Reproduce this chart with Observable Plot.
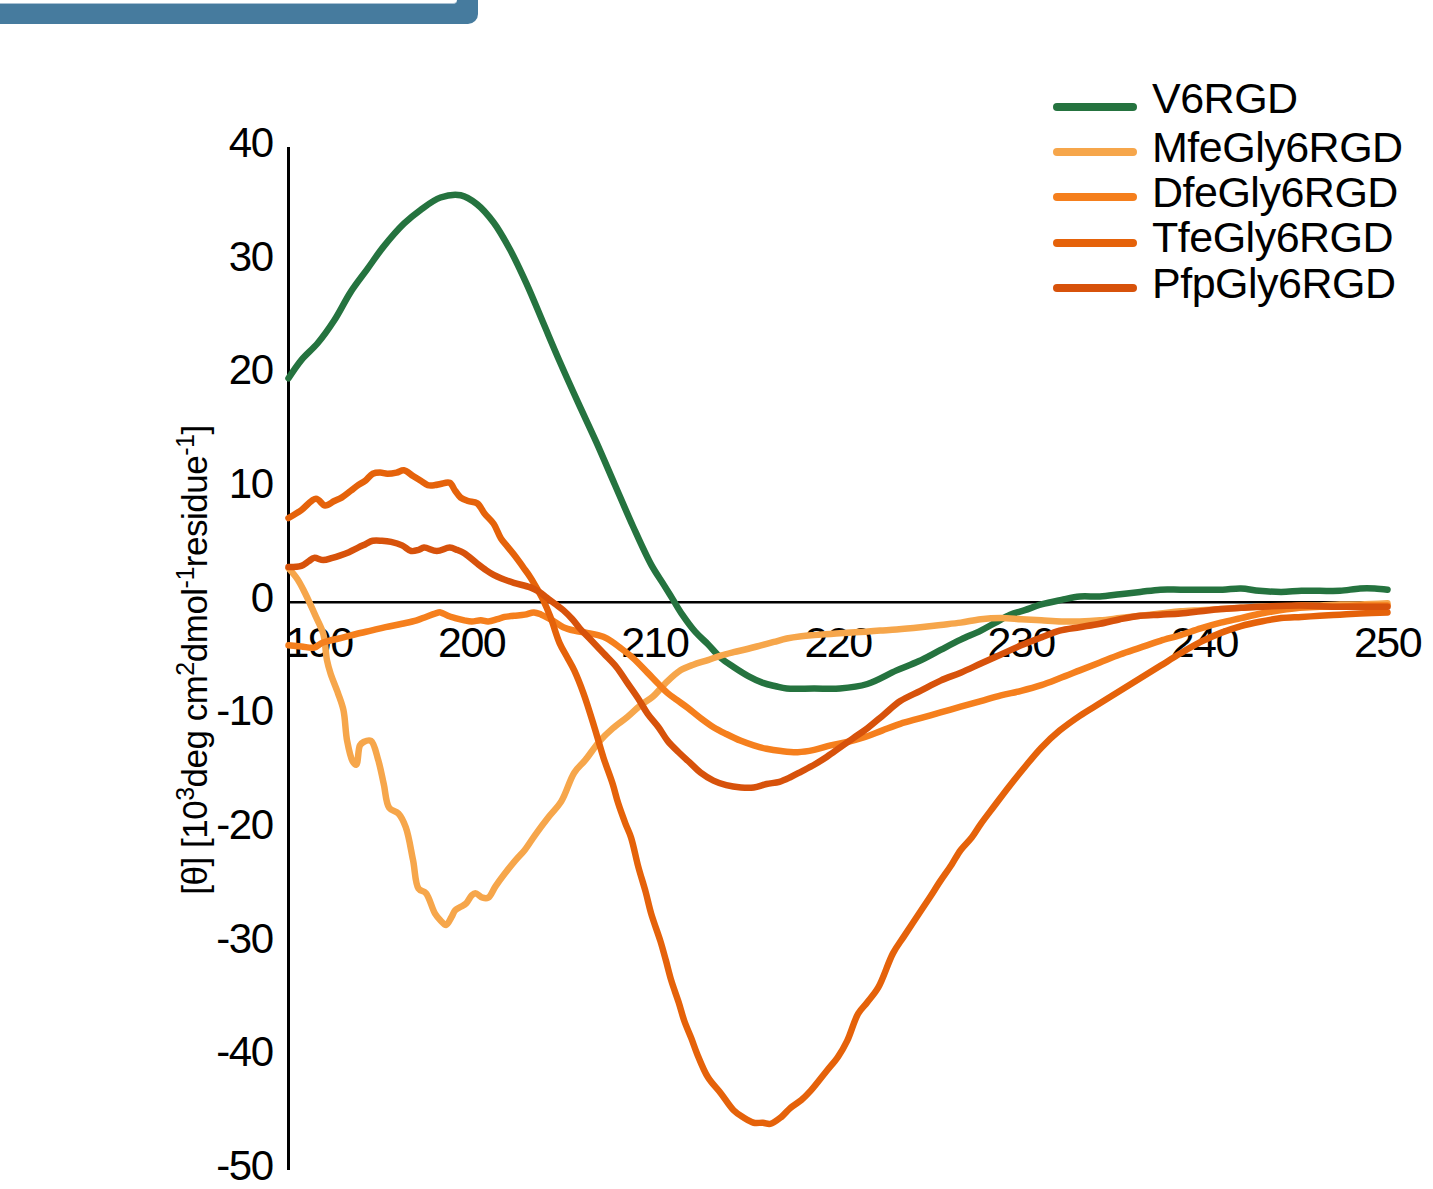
<!DOCTYPE html>
<html><head><meta charset="utf-8">
<script src="https://cdn.jsdelivr.net/npm/d3@7"></script>
<script src="https://cdn.jsdelivr.net/npm/@observablehq/plot@0.6"></script>
<style>
html,body{margin:0;padding:0;background:#fff;overflow:hidden;}
body{font-family:"Liberation Sans",Arial,sans-serif;}
#wrap{position:relative;width:1433px;height:1189px;overflow:hidden;}
#wrap svg{position:absolute;left:0;top:0;}
#wrap svg text{letter-spacing:-1.5px;}
#bar{position:absolute;left:-20px;top:-40px;width:498px;height:64px;background:#467b9e;border-radius:10px;z-index:2;}
#barInner{position:absolute;left:-20px;top:-40px;width:477px;height:43px;background:#fff;border-bottom:1.5px solid #a9c1d3;border-radius:0 0 4px 0;z-index:3;}
#legend{position:absolute;left:1053px;top:84px;z-index:2;}
.row{display:flex;align-items:center;height:45.4px;}
.sw{width:84px;height:8px;border-radius:4px;}
.lab{margin-left:15px;font-size:43px;line-height:1;color:#000;letter-spacing:-0.5px;transform:translateY(-5px);white-space:nowrap;}
.row:first-child .lab{transform:translateY(-8px);}
</style>
</head><body>
<div id="wrap"><div id="bar"></div><div id="barInner"></div><div id="legend"></div></div>
<script>
const seriesNames = ["V6RGD", "MfeGly6RGD", "DfeGly6RGD", "TfeGly6RGD", "PfpGly6RGD"];
const seriesColors = ["#25733f", "#f6a64b", "#f57f1d", "#e5620a", "#d7520b"];
const xTicks = [190, 200, 210, 220, 230, 240, 250];
const yTicks = [40, 30, 20, 10, 0, -10, -20, -30, -40, -50];
const yTitleParts = [["[θ] [10", false], ["3", true], ["deg cm", false], ["2", true], ["dmol", false], ["-1", true], ["residue", false], ["-1", true], ["]", false]];

// wavelength (nm), [θ] (10^3 deg cm2 dmol-1 residue-1)
const V6RGD = [[190,19.7],[190.7,21.3],[191.6,22.8],[192.5,24.8],[193.4,27.3],[194.3,29.3],[195.2,31.3],[196.3,33.3],[197.2,34.5],[198.3,35.6],[199.4,35.8],[200.3,35.0],[201.2,33.4],[202.1,31.0],[203.0,28.0],[203.9,24.6],[204.8,21.2],[205.8,17.6],[206.8,14.1],[207.8,10.4],[208.8,6.7],[209.8,3.3],[210.5,1.5],[211.0,0.2],[211.5,-1.1],[212.2,-2.6],[212.9,-3.7],[213.6,-4.9],[214.3,-5.7],[215.1,-6.5],[215.9,-7.1],[216.6,-7.4],[217.2,-7.6],[218.7,-7.6],[220.1,-7.6],[221.6,-7.2],[223.2,-6.0],[224.4,-5.2],[225.6,-4.2],[226.7,-3.3],[227.8,-2.5],[228.6,-1.8],[229.4,-1.1],[230.2,-0.7],[231.1,-0.2],[232.2,0.2],[233.2,0.5],[234.3,0.5],[235.4,0.7],[236.5,0.9],[237.6,1.1],[238.7,1.1],[239.8,1.1],[241,1.1],[242,1.2],[243,1.0],[244.2,0.9],[245.3,1.0],[246.3,1.0],[247.4,1.0],[248.5,1.2],[249.3,1.2],[250,1.1]];
const MfeGly6RGD = [[190,3.0],[190.5,2.0],[190.9,0.8],[191.5,-1.3],[191.9,-2.8],[192.1,-5.1],[192.3,-6.3],[192.7,-8.0],[193.0,-9.5],[193.2,-12.2],[193.5,-14.0],[193.7,-14.3],[193.9,-12.6],[194.1,-12.3],[194.5,-12.2],[194.9,-13.9],[195.2,-16.0],[195.5,-18.1],[196.0,-18.6],[196.4,-19.8],[196.8,-22.7],[197.1,-25.2],[197.5,-25.6],[198.0,-27.4],[198.3,-28.0],[198.6,-28.4],[198.9,-27.7],[199.1,-27.1],[199.4,-26.8],[199.7,-26.5],[200.0,-25.8],[200.2,-25.6],[200.6,-26.0],[200.9,-26.0],[201.3,-25.0],[201.8,-23.9],[202.4,-22.7],[202.9,-21.8],[203.5,-20.4],[204.2,-18.9],[204.9,-17.5],[205.6,-15.0],[206.2,-13.9],[207.0,-12.2],[207.7,-11.1],[208.5,-10.1],[209.2,-9.1],[209.9,-8.3],[210.6,-7.1],[211.4,-6.0],[212.1,-5.5],[212.9,-5.1],[213.6,-4.7],[214.3,-4.4],[215.1,-4.1],[215.8,-3.8],[216.5,-3.5],[217.2,-3.2],[218,-3.0],[218.7,-2.9],[219.6,-2.8],[220.5,-2.7],[221.5,-2.6],[222.3,-2.5],[223.2,-2.4],[224.5,-2.2],[225.6,-2.0],[226.7,-1.8],[227.8,-1.5],[228.9,-1.4],[230,-1.5],[231.1,-1.6],[232.2,-1.7],[233.2,-1.7],[234.3,-1.6],[235.4,-1.4],[236.5,-1.2],[237.6,-1.0],[238.7,-0.8],[239.8,-0.7],[241,-0.6],[242,-0.5],[243.1,-0.4],[244.2,-0.4],[245.3,-0.3],[246.3,-0.3],[247.4,-0.2],[248.5,-0.2],[250,-0.1]];
const DfeGly6RGD = [[190,-3.8],[190.7,-3.9],[191.4,-4.0],[191.8,-3.6],[192.2,-3.4],[193.0,-3.1],[193.7,-2.8],[194.5,-2.5],[195.3,-2.2],[196.2,-1.9],[197.0,-1.6],[197.5,-1.3],[198.0,-1.0],[198.3,-0.9],[198.7,-1.2],[199.1,-1.4],[199.6,-1.6],[200.0,-1.7],[200.5,-1.6],[200.9,-1.7],[201.4,-1.5],[201.8,-1.3],[202.3,-1.2],[202.9,-1.1],[203.4,-0.9],[203.8,-1.1],[204.4,-1.6],[205.0,-2.2],[205.6,-2.5],[206.3,-2.7],[206.9,-2.9],[207.4,-3.2],[208.1,-4.0],[208.8,-4.9],[209.6,-6.2],[210.2,-7.2],[210.7,-8.0],[211.2,-8.6],[211.8,-9.3],[212.5,-10.2],[213.2,-11.0],[213.9,-11.6],[214.7,-12.2],[215.4,-12.6],[216.1,-12.9],[216.9,-13.1],[217.8,-13.2],[218.7,-13.0],[219.6,-12.6],[220.5,-12.3],[221.4,-11.9],[222.4,-11.3],[223.4,-10.7],[224.5,-10.2],[225.6,-9.7],[226.7,-9.2],[227.8,-8.7],[228.9,-8.2],[230,-7.8],[231.1,-7.3],[232.1,-6.7],[233.2,-6.0],[234.3,-5.3],[235.4,-4.6],[236.5,-4.0],[237.6,-3.4],[238.7,-2.9],[239.8,-2.3],[240.9,-1.8],[242,-1.4],[243.1,-1.0],[244.2,-0.7],[245.2,-0.5],[246.3,-0.4],[247.4,-0.4],[248.5,-0.3],[250,-0.3]];
const TfeGly6RGD = [[190,7.4],[190.7,8.1],[191.5,9.1],[192.0,8.5],[192.5,8.9],[192.9,9.2],[193.4,9.8],[193.8,10.3],[194.2,10.7],[194.6,11.3],[195.0,11.4],[195.4,11.3],[195.9,11.4],[196.3,11.6],[196.8,11.1],[197.2,10.7],[197.6,10.3],[198.0,10.3],[198.3,10.4],[198.8,10.5],[199.1,9.8],[199.4,9.2],[199.8,8.9],[200.3,8.7],[200.7,7.8],[201.2,6.9],[201.6,5.6],[202.0,4.8],[202.4,4.0],[202.8,3.1],[203.2,2.2],[203.6,1.1],[203.9,0.2],[204.3,-1.3],[204.8,-3.6],[205.2,-4.8],[205.6,-6.0],[206.1,-8.0],[206.7,-11.0],[207.2,-13.7],[207.7,-16.0],[208.0,-17.7],[208.4,-19.5],[208.7,-20.7],[209.1,-23.3],[209.5,-25.5],[209.8,-27.4],[210.3,-29.8],[210.6,-31.5],[210.9,-33.3],[211.3,-35.2],[211.6,-36.8],[212.0,-38.4],[212.3,-39.7],[212.9,-41.8],[213.6,-43.2],[214.3,-44.7],[214.8,-45.3],[215.4,-45.8],[215.9,-45.8],[216.3,-45.9],[216.9,-45.3],[217.4,-44.5],[218.0,-43.8],[218.5,-43.0],[219.4,-41.2],[220.0,-40.0],[220.5,-38.6],[221.1,-36.2],[221.6,-35.2],[222.2,-33.9],[223.0,-30.9],[223.6,-29.4],[224.3,-27.7],[225.0,-26.0],[225.6,-24.5],[226.2,-23.1],[226.7,-21.8],[227.3,-20.7],[227.8,-19.5],[228.5,-18.0],[229.3,-16.3],[230.2,-14.5],[231.1,-12.8],[232.1,-11.3],[233.2,-10.0],[234.3,-8.9],[235.4,-7.8],[236.5,-6.7],[237.6,-5.6],[238.7,-4.5],[239.8,-3.5],[240.9,-2.7],[242,-2.1],[243.1,-1.7],[244.2,-1.4],[245.3,-1.3],[246.3,-1.2],[247.4,-1.1],[248.5,-1.0],[250,-0.9]];
const PfpGly6RGD = [[190,3.1],[190.7,3.2],[191.1,3.6],[191.4,3.9],[191.9,3.7],[192.4,3.9],[192.8,4.1],[193.3,4.4],[193.8,4.8],[194.2,5.1],[194.6,5.4],[195.1,5.4],[195.6,5.3],[196.2,5.0],[196.7,4.5],[197.1,4.6],[197.4,4.8],[198.1,4.5],[198.8,4.8],[199.2,4.6],[199.6,4.3],[200.3,3.4],[200.8,2.8],[201.2,2.4],[201.6,2.1],[202.3,1.7],[203.2,1.3],[203.7,0.9],[204.1,0.4],[204.6,-0.2],[205.0,-0.7],[205.5,-1.5],[205.9,-2.3],[206.5,-3.3],[207.2,-4.5],[207.9,-5.7],[208.5,-7.1],[209.1,-8.5],[209.6,-9.8],[210.2,-11.0],[210.7,-12.2],[211.3,-13.2],[211.9,-14.1],[212.5,-15.0],[213.2,-15.7],[213.9,-16.1],[214.7,-16.3],[215.4,-16.3],[216.1,-16.0],[216.8,-15.8],[217.4,-15.4],[218.0,-14.9],[218.7,-14.3],[219.4,-13.6],[220.1,-12.8],[220.8,-12.0],[221.6,-11.1],[222.5,-9.9],[223.4,-8.7],[224.5,-7.8],[225.6,-6.9],[226.7,-6.2],[227.8,-5.4],[228.9,-4.6],[230,-3.8],[231.1,-3.1],[232.1,-2.5],[233.2,-2.2],[234.3,-1.9],[235.4,-1.5],[236.5,-1.2],[237.6,-1.1],[238.7,-1.0],[239.8,-0.8],[240.9,-0.6],[242,-0.5],[243.1,-0.4],[245.2,-0.3],[247.4,-0.4],[250,-0.4]];

const seriesData = [V6RGD, MfeGly6RGD, DfeGly6RGD, TfeGly6RGD, PfpGly6RGD];
const points = seriesData.flatMap((arr, i) => arr.map(([x, y]) => ({series: seriesNames[i], x, y})));

const font = "'Liberation Sans', Arial, Helvetica, sans-serif";
const chart = Plot.plot({
  width: 1433, height: 1189,
  marginLeft: 288, marginRight: 46, marginTop: 147, marginBottom: 19,
  x: {domain: [190, 250], axis: null},
  y: {domain: [-50, 40], axis: null},
  color: {domain: seriesNames, range: seriesColors},
  style: {fontFamily: font, background: "transparent", overflow: "visible", color: "#000"},
  marks: [
    Plot.ruleY([0], {stroke: "#000", strokeWidth: 2.5}),
    Plot.ruleX([190], {stroke: "#000", strokeWidth: 3}),
    Plot.axisY(yTicks, {tickSize: 0, tickPadding: 16, fontSize: 42, tickFormat: d => String(d), label: null, dy: -4}),
    Plot.text(xTicks.slice(1), {x: d => d, y: 0, dy: 41, text: d => String(d), fontSize: 43, textAnchor: "middle"}),
    Plot.text(xTicks.slice(0, 1), {x: d => d, y: 0, dy: 41, dx: -3, text: d => String(d), fontSize: 43, textAnchor: "start"}),
    Plot.line(points, {x: "x", y: "y", z: "series", stroke: "series", strokeWidth: 6.5, curve: "catmull-rom", strokeLinejoin: "round"}),
    Plot.text([yTitleParts.map(p => p[0]).join("")], {frameAnchor: "left", textAnchor: "middle", dx: -93, dy: 1, rotate: -90, fontSize: 35, className: "ytitle"})
  ]
});
document.getElementById("wrap").appendChild(chart);

// rebuild y title with superscripts
const t = d3.select(chart).select("g.ytitle text");
t.text(null).style("letter-spacing", "-0.5px");
let up = false;
yTitleParts.forEach(([s, sup]) => {
  const ts = t.append("tspan").text(s);
  if (sup && !up) { ts.attr("dy", -13).attr("font-size", 25); up = true; }
  else if (sup) { ts.attr("font-size", 25); }
  else if (up) { ts.attr("dy", 13); up = false; }
});

// legend
const legend = d3.select("#legend");
seriesNames.forEach((n, i) => {
  const row = legend.append("div").attr("class", "row");
  row.append("div").attr("class", "sw").style("background", seriesColors[i]);
  row.append("div").attr("class", "lab").text(n);
});
</script>
</body></html>
